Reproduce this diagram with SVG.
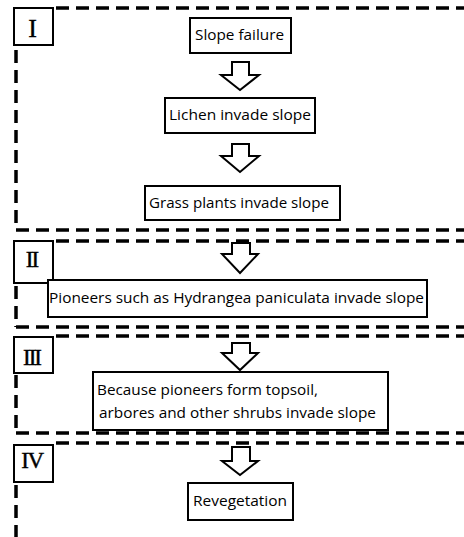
<svg xmlns="http://www.w3.org/2000/svg" width="464" height="537" viewBox="0 0 464 537">
<style>
.dash{stroke:#000;stroke-width:3.5;stroke-dasharray:13 7;fill:none}
.box{fill:#fff;stroke:#000;stroke-width:2}
.lbl{fill:#fff;stroke:#000;stroke-width:2}
.arr{fill:#fff;stroke:#000;stroke-width:2;stroke-linejoin:miter}
.t{font-family:"Open Sans","Liberation Sans",sans-serif;font-size:14px;fill:#000}
.rn{font-family:"Liberation Serif","DejaVu Serif",serif;fill:#000;stroke:#000;stroke-width:0.4;text-anchor:middle}
</style>
<rect width="464" height="537" fill="#fff"/>
<g id="dividers">
<line class="dash" x1="56" y1="8" x2="464" y2="8"/>
<line class="dash" x1="16" y1="50" x2="16" y2="230"/>
<line class="dash" x1="16" y1="230" x2="464" y2="230"/>
<line class="dash" x1="56" y1="241" x2="464" y2="241"/>
<line class="dash" x1="16" y1="286" x2="16" y2="327"/>
<line class="dash" x1="16" y1="327" x2="464" y2="327"/>
<line class="dash" x1="56" y1="336" x2="464" y2="336"/>
<line class="dash" x1="16" y1="375" x2="16" y2="433"/>
<line class="dash" x1="16" y1="433" x2="464" y2="433"/>
<line class="dash" x1="56" y1="443" x2="464" y2="443"/>
<line class="dash" x1="16" y1="485" x2="16" y2="537"/>
</g>
<g id="label-I"><rect class="lbl" x="14" y="8" width="39" height="37"/><text class="rn" x="32.5" y="37" font-size="26">I</text></g>
<g id="label-II"><rect class="lbl" x="14" y="241" width="39" height="42"/><text class="rn" x="31.5" y="267" font-size="23" letter-spacing="-2">II</text></g>
<g id="label-III"><rect class="lbl" x="14" y="337" width="39" height="36"/><text class="rn" x="31.5" y="365" font-size="23" letter-spacing="-2">III</text></g>
<g id="label-IV"><rect class="lbl" x="14" y="445" width="39" height="37"/><text class="rn" x="32" y="468" font-size="23" letter-spacing="-1.5">IV</text></g>
<g id="connectors">
<path class="arr" d="M232,62 H249 V75 H259 L240,90 L221,75 H232 Z"/>
<path class="arr" d="M232,144 H249 V156 H259 L240,172 L221,156 H232 Z"/>
<path class="arr" d="M232,243 H250 V254 H258 L240,273 L222,254 H232 Z"/>
<path class="arr" d="M232,343 H250 V353 H258 L240,370 L222,353 H232 Z"/>
<path class="arr" d="M232,447 H250 V461 H258 L240,475 L222,461 H232 Z"/>
</g>
<g id="n1"><rect class="box" x="190" y="18" width="101" height="35"/><text class="t" x="195" y="40" textLength="89" lengthAdjust="spacingAndGlyphs">Slope failure</text></g>
<g id="n2"><rect class="box" x="165" y="98" width="150" height="35"/><text class="t" x="169" y="120" textLength="142" lengthAdjust="spacingAndGlyphs">Lichen invade slope</text></g>
<g id="n3"><rect class="box" x="145" y="186" width="195" height="34"/><text class="t" x="149" y="208" textLength="180" lengthAdjust="spacingAndGlyphs">Grass plants invade slope</text></g>
<g id="n4"><rect class="box" x="48" y="280" width="379" height="37"/><text class="t" x="49" y="303" textLength="375" lengthAdjust="spacingAndGlyphs">Pioneers such as Hydrangea paniculata invade slope</text></g>
<g id="n5"><rect class="box" x="93" y="372" width="295" height="58"/><text class="t" x="97" y="395" textLength="221" lengthAdjust="spacingAndGlyphs">Because pioneers form topsoil,</text><text class="t" x="99" y="418" textLength="277" lengthAdjust="spacingAndGlyphs">arbores and other shrubs invade slope</text></g>
<g id="n6"><rect class="box" x="188" y="483" width="105" height="37"/><text class="t" x="193" y="506" textLength="94" lengthAdjust="spacingAndGlyphs">Revegetation</text></g>
</svg>
